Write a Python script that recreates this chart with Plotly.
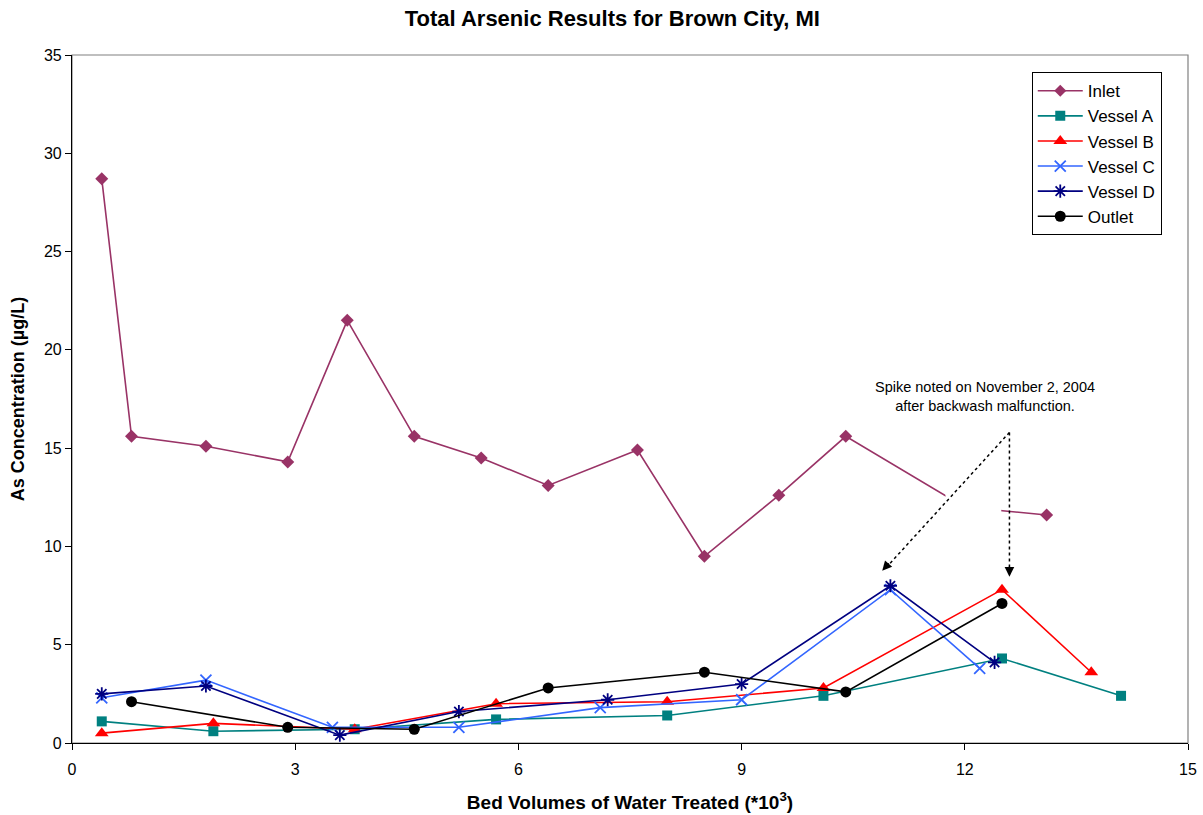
import plotly.graph_objects as go

# ---- data ----
inlet_x = [0.4, 0.8, 1.8, 2.9, 3.7, 4.6, 5.5, 6.4, 7.6, 8.5, 9.5, 10.4, 12.0, 13.1]
inlet_y = [28.7, 15.6, 15.1, 14.3, 21.5, 15.6, 14.5, 13.1, 14.9, 9.5, 12.6, 15.6, 12.0, 11.6]

va_x = [0.4, 1.9, 3.8, 5.7, 8.0, 10.1, 12.5, 14.1]
va_y = [1.1, 0.6, 0.7, 1.2, 1.4, 2.4, 4.3, 2.4]

vb_x = [0.4, 1.9, 3.8, 5.7, 8.0, 10.1, 12.5, 13.7]
vb_y = [0.5, 1.0, 0.7, 2.0, 2.1, 2.8, 7.8, 3.6]

vc_x = [0.4, 1.8, 3.5, 5.2, 7.1, 9.0, 11.0, 12.2]
vc_y = [2.3, 3.2, 0.8, 0.8, 1.8, 2.2, 7.8, 3.8]

vd_x = [0.4, 1.8, 3.6, 5.2, 7.2, 9.0, 11.0, 12.4]
vd_y = [2.5, 2.9, 0.4, 1.6, 2.2, 3.0, 8.0, 4.1]

out_x = [0.8, 2.9, 4.6, 6.4, 8.5, 10.4, 12.5]
out_y = [2.1, 0.8, 0.7, 2.8, 3.6, 2.6, 7.1]

series_names = ["Inlet", "Vessel A", "Vessel B", "Vessel C", "Vessel D", "Outlet"]
x_ticks = [0, 3, 6, 9, 12, 15]
y_ticks = [0, 5, 10, 15, 20, 25, 30, 35]

FONT = "Liberation Sans, Arial, sans-serif"

styles = [
    dict(color="#993366", symbol="diamond", size=10),
    dict(color="#008080", symbol="square", size=10),
    dict(color="#FF0000", symbol="triangle-up", size=12),
    dict(color="#3366FF", symbol="x-thin-open", size=11),
    dict(color="#000080", symbol="asterisk-open", size=11),
    dict(color="#000000", symbol="circle", size=11),
]
data = [(inlet_x, inlet_y), (va_x, va_y), (vb_x, vb_y), (vc_x, vc_y), (vd_x, vd_y), (out_x, out_y)]

fig = go.Figure()
for name, (xs, ys), st in zip(series_names, data, styles):
    if "open" in st["symbol"]:
        mline = dict(color=st["color"], width=1.8)
    else:
        mline = dict(width=0)
    msizes = [st["size"]] * len(xs)
    if name == "Inlet":
        # point hidden in the reference (under the annotation area)
        msizes[12] = 0
    fig.add_trace(go.Scatter(
        x=xs, y=ys, name=name, mode="lines+markers",
        line=dict(color=st["color"], width=1.6),
        marker=dict(color=st["color"], symbol=st["symbol"], size=msizes,
                    opacity=1, line=mline),
        legendgroup=name,
    ))

shapes = [
    # gray plot frame
    dict(type="rect", xref="paper", yref="paper", x0=0, x1=1, y0=0, y1=1,
         line=dict(color="#808080", width=1.2), fillcolor="rgba(0,0,0,0)", layer="below"),
    # white gap in inlet line near annotation
    dict(type="rect", xref="x", yref="y", x0=11.74, x1=12.49, y0=11.2, y1=13.2,
         line=dict(width=0), fillcolor="white", layer="above"),
    # dotted arrows
    dict(type="line", xref="x", yref="y", x0=12.6, y0=15.8, x1=10.95, y1=8.95,
         line=dict(color="black", width=1.5, dash="dot"), layer="above"),
    dict(type="line", xref="x", yref="y", x0=12.6, y0=15.8, x1=12.6, y1=8.7,
         line=dict(color="black", width=1.5, dash="dot"), layer="above"),
]

annotations = [
    dict(x=12.27, y=17.65, xref="x", yref="y", showarrow=False,
         text="Spike noted on November 2, 2004<br>after backwash malfunction.",
         font=dict(family=FONT, size=14.5, color="black"), align="center"),
    dict(x=10.89, y=8.76, xref="x", yref="y", showarrow=True, arrowhead=2,
         arrowsize=1.6, arrowwidth=1.2, arrowcolor="black", ax=8, ay=-9, text=""),
    dict(x=12.6, y=8.46, xref="x", yref="y", showarrow=True, arrowhead=2,
         arrowsize=1.6, arrowwidth=1.2, arrowcolor="black", ax=0, ay=-12, text=""),
]

fig.update_layout(
    template="none",
    width=1203, height=815,
    margin=dict(l=72, r=15, t=55, b=72, autoexpand=False),
    paper_bgcolor="white", plot_bgcolor="white",
    font=dict(family=FONT, size=16, color="black"),
    title=dict(text="<b>Total Arsenic Results for Brown City, MI</b>",
               x=0.509, xanchor="center", y=0.978, yanchor="middle",
               font=dict(family=FONT, size=22, color="black")),
    xaxis=dict(range=[0, 15], tickvals=x_ticks, ticktext=[str(v) for v in x_ticks],
               showgrid=False, zeroline=False, showline=True, linecolor="black", linewidth=1.2,
               ticks="outside", ticklen=6, tickcolor="black", tickwidth=1, automargin=False,
               tickfont=dict(family=FONT, size=16), ticklabelstandoff=6,
               title=dict(text="<b>Bed Volumes of Water Treated (*10<sup>3</sup>)</b>",
                          font=dict(family=FONT, size=19), standoff=18)),
    yaxis=dict(range=[0, 35], tickvals=y_ticks, ticktext=[str(v) for v in y_ticks],
               showgrid=False, zeroline=False, showline=True, linecolor="black", linewidth=1.2,
               ticks="outside", ticklen=6, tickcolor="black", tickwidth=1, automargin=False,
               tickfont=dict(family=FONT, size=16),
               title=dict(text="<b>As Concentration (µg/L)</b>",
                          font=dict(family=FONT, size=18), standoff=14)),
    legend=dict(x=0.86, y=0.975, xanchor="left", yanchor="top",
                bgcolor="white", bordercolor="black", borderwidth=1,
                font=dict(family=FONT, size=17), tracegroupgap=0,
                itemwidth=45),
    shapes=shapes, annotations=annotations, showlegend=True,
)

fig.write_html("out.html", post_script="document.body.style.margin='0px';",
               config={"displayModeBar": False})
